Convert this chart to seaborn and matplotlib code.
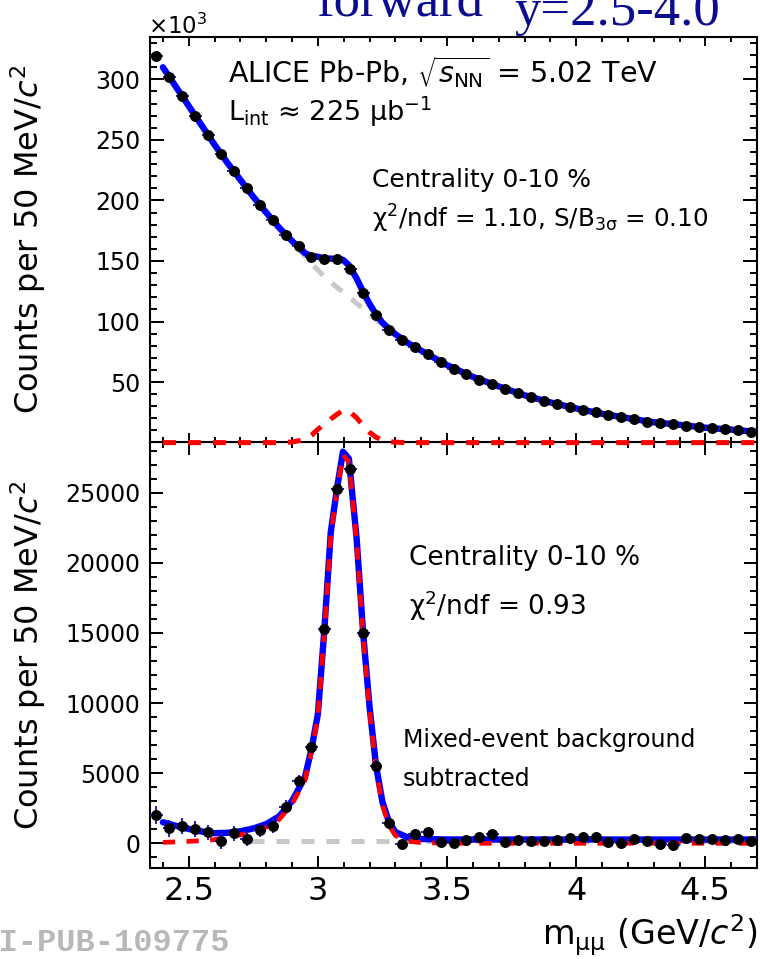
import numpy as np
import matplotlib
matplotlib.use("Agg")
import matplotlib.pyplot as plt
import seaborn as sns
from matplotlib.ticker import MultipleLocator, FixedLocator, FixedFormatter

# ---------------- data ----------------
mass = [2.375, 2.425, 2.475, 2.525, 2.575, 2.625, 2.675, 2.725, 2.775, 2.825,
        2.875, 2.925, 2.975, 3.025, 3.075, 3.125, 3.175, 3.225, 3.275, 3.325,
        3.375, 3.425, 3.475, 3.525, 3.575, 3.625, 3.675, 3.725, 3.775, 3.825,
        3.875, 3.925, 3.975, 4.025, 4.075, 4.125, 4.175, 4.225, 4.275, 4.325,
        4.375, 4.425, 4.475, 4.525, 4.575, 4.625, 4.675]

# upper panel: counts in units of 10^3
top_counts = [319.5, 302.0, 286.0, 269.8, 254.0, 238.0, 224.4, 210.0, 196.5, 183.8,
              171.6, 162.5, 153.7, 151.5, 151.5, 143.7, 123.3, 105.3, 93.4, 85.1,
              78.8, 73.3, 66.6, 61.1, 56.7, 52.0, 48.4, 44.5, 40.9, 37.3,
              34.6, 31.8, 29.3, 27.1, 24.9, 22.7, 21.1, 19.4, 17.4, 16.1,
              15.3, 14.1, 12.8, 11.9, 11.1, 10.3, 9.1]

# lower panel: mixed-event background subtracted counts
bottom_counts = [2018, 1070, 1256, 998, 785, 164, 713, 285, 949, 1234,
                 2611, 4444, 6890, 15265, 25250, 26680, 15020, 5514, 1427, -71,
                 642, 785, 114, 0, 235, 428, 663, 114, 235, 164,
                 185, 235, 357, 428, 471, 71, 43, 285, 185, -50,
                 -121, 357, 307, 285, 235, 285, 185]
bottom_err = [620, 600, 580, 560, 550, 540, 520, 500, 490, 480,
              470, 460, 450, 500, 520, 520, 480, 420, 380, 360,
              350, 340, 330, 320, 310, 300, 300, 290, 290, 280,
              280, 270, 270, 260, 260, 250, 250, 240, 240, 230,
              230, 220, 220, 215, 210, 205, 200]
bin_half_width = 0.025

# fit curves (knots)
fit_mass = [2.40, 2.45, 2.50, 2.55, 2.60, 2.65, 2.70, 2.75, 2.80, 2.85, 2.90, 2.95,
            2.975, 3.00, 3.025, 3.05, 3.075, 3.097, 3.12, 3.15, 3.175, 3.20, 3.225, 3.25, 3.275, 3.30,
            3.35, 3.40, 3.50,
            3.60, 3.70, 3.80, 3.90, 4.00, 4.10, 4.20, 4.30, 4.40, 4.50, 4.60, 4.70]
top_bkg = [310, 294, 278, 262, 246, 231, 217, 203, 190, 177.5, 166, 154,
           148, 142.5, 137, 132.5, 128, 124.5, 120.5, 115, 110.5, 106, 101.5, 97, 93.2, 89.2,
           82, 76, 64,
           54.3, 46.4, 39.1, 33.2, 28.2, 23.8, 20.2, 16.8, 14.7, 12.3, 10.7, 8.8]
top_sig = [0, 0, 0, 0, 0, 0, 0, 0, 0, 0, 0.5, 2.5,
           6, 11, 15, 19.5, 23.5, 26.5, 26, 20.5, 14, 8.5, 4.5, 2, 0.8, 0.3,
           0, 0, 0,
           0, 0, 0, 0, 0, 0, 0, 0, 0, 0, 0, 0]
bot_bkg = [1430, 1150, 880, 650, 460, 330, 260, 230, 220, 220, 220, 220,
           220, 220, 220, 225, 225, 230, 230, 235, 235, 240, 240, 245, 245, 250,
           255, 260, 265,
           270, 270, 270, 270, 270, 270, 270, 270, 270, 270, 270, 270]
bot_sig = [70, 100, 140, 190, 260, 420, 600, 830, 1150, 1700, 2800, 4500,
           6500, 9000, 15000, 22000, 25200, 27700, 27200, 21500, 14800, 9500, 5300, 2700, 1300, 550,
           150, 50, 10,
           0, 0, 0, 0, 0, 0, 0, 0, 0, 0, 0, 0]
bot_ref_mass = [2.74, 4.70]
bot_ref_level = [160, 160]

x_ticks = [2.5, 3.0, 3.5, 4.0, 4.5]
x_ticklabels = ["2.5", "3", "3.5", "4", "4.5"]
top_yticks = [50, 100, 150, 200, 250, 300]
top_yticklabels = ["50", "100", "150", "200", "250", "300"]
bot_yticks = [0, 5000, 10000, 15000, 20000, 25000]
bot_yticklabels = ["0", "5000", "10000", "15000", "20000", "25000"]

# ---------------- style ----------------
sns.set_theme(style="ticks")
plt.rcParams["font.family"] = ["DejaVu Sans"]
plt.rcParams["mathtext.fontset"] = "dejavusans"
plt.rcParams["axes.linewidth"] = 1.5
plt.rcParams["text.color"] = "black"
plt.rcParams["axes.labelcolor"] = "black"
plt.rcParams["xtick.color"] = "black"
plt.rcParams["ytick.color"] = "black"
plt.rcParams["xtick.labelcolor"] = "black"
plt.rcParams["ytick.labelcolor"] = "black"

W, H = 760, 959
def fx(px):
    return px / W
def fy(py):
    return 1 - py / H

fig = plt.figure(figsize=(W / 100, H / 100), dpi=100)
fig.patch.set_facecolor("white")
ax1 = fig.add_axes([fx(150), fy(442), 607 / W, 405 / H])
ax2 = fig.add_axes([fx(150), fy(868), 607 / W, 426 / H])
ax1.set_zorder(3)

BLUE = "#0000ff"
RED = "#ff0000"
GRAY = "#c8c8c8"
DASH = (0, (2.6, 2.4))

top_total = np.array(top_bkg) + np.array(top_sig)
bot_total = np.array(bot_bkg) + np.array(bot_sig)

# ---- upper panel ----
sns.lineplot(x=fit_mass, y=top_bkg, ax=ax1, color=GRAY, lw=3.6, sort=False, zorder=2)
ax1.lines[-1].set_linestyle(DASH)
sns.lineplot(x=fit_mass, y=top_total, ax=ax1, color=BLUE, lw=4.6, sort=False, zorder=3)
sns.lineplot(x=fit_mass, y=top_sig, ax=ax1, color=RED, lw=3.6, sort=False, zorder=3)
ax1.lines[-1].set_linestyle(DASH)
ax1.lines[-1].set_clip_on(False)
ax1.errorbar(mass, top_counts, xerr=bin_half_width, fmt="none", ecolor="#1c1cc8",
             elinewidth=1.4, capsize=0, zorder=4)
sns.scatterplot(x=mass, y=top_counts, ax=ax1, color="black", s=62, linewidth=0, zorder=5)

# ---- lower panel ----
sns.lineplot(x=bot_ref_mass, y=bot_ref_level, ax=ax2, color=GRAY, lw=3.6, sort=False, zorder=2)
ax2.lines[-1].set_linestyle(DASH)
sns.lineplot(x=fit_mass, y=bot_total, ax=ax2, color=BLUE, lw=4.6, sort=False, zorder=3)
sns.lineplot(x=fit_mass, y=bot_sig, ax=ax2, color=RED, lw=3.4, sort=False, zorder=3.5)
ax2.lines[-1].set_linestyle(DASH)
ax2.errorbar(mass, bottom_counts, xerr=bin_half_width, yerr=bottom_err, fmt="none",
             ecolor="#1c1cc8", elinewidth=1.4, capsize=0, zorder=4)
sns.scatterplot(x=mass, y=bottom_counts, ax=ax2, color="black", s=62, linewidth=0, zorder=5)

# ---- axes ----
for ax in (ax1, ax2):
    ax.set_xlim(2.35, 4.70)
    ax.xaxis.set_major_locator(FixedLocator(x_ticks))
    ax.xaxis.set_minor_locator(MultipleLocator(0.1))
    ax.set_xlabel("")
    ax.set_ylabel("")
    for sp in ax.spines.values():
        sp.set_visible(True)
        sp.set_linewidth(1.5)
        sp.set_color("black")
    ax.tick_params(which="both", direction="in", top=True, right=True, bottom=True, left=True,
                   width=1.4, color="black", labelcolor="black")
    ax.set_facecolor("white")
    ax.grid(False)

ax1.set_ylim(0.5, 335)
ax1.yaxis.set_major_locator(FixedLocator(top_yticks))
ax1.yaxis.set_major_formatter(FixedFormatter(top_yticklabels))
ax1.yaxis.set_minor_locator(MultipleLocator(10))
ax1.tick_params(axis="y", which="major", length=10, labelsize=17, pad=7)
ax1.tick_params(axis="y", which="minor", length=5)
ax1.tick_params(axis="x", which="major", length=6.5, labelbottom=False)
ax1.tick_params(axis="x", which="minor", length=3.3)

ax2.set_ylim(-1760, 28620)
ax2.yaxis.set_major_locator(FixedLocator(bot_yticks))
ax2.yaxis.set_major_formatter(FixedFormatter(bot_yticklabels))
ax2.yaxis.set_minor_locator(MultipleLocator(1000))
ax2.xaxis.set_major_formatter(FixedFormatter(x_ticklabels))
ax2.tick_params(axis="y", which="major", length=9.4, labelsize=17, pad=7)
ax2.tick_params(axis="y", which="minor", length=4.7)
ax2.tick_params(axis="x", which="major", length=9, labelsize=23, pad=6)
ax2.tick_params(axis="x", which="minor", length=4.3)

ylab = r"Counts per 50 MeV/$c^{2}$"
ax1.set_ylabel(ylab, fontsize=23, color="black")
ax2.set_ylabel(ylab, fontsize=23, color="black")
ax1.yaxis.set_label_coords(-0.168, 0.5)
ax2.yaxis.set_label_coords(-0.168, 0.5)

ax2.set_xlabel(r"m$_{\mathregular{μμ}}$ (GeV/$c^{2}$)", fontsize=24, loc="right", va="baseline",
               color="black")
ax2.xaxis.set_label_coords(1.0, (868 - 945) / 426)

# ---- texts ----
fig.text(fx(148), fy(34), r"$\times$10$^{3}$", fontsize=16.5, va="baseline", ha="left")
fig.text(fx(228), fy(83), r"ALICE Pb-Pb, $\sqrt{s_{\rm NN}}$ = 5.02 TeV", fontsize=20.5, va="baseline")
fig.text(fx(228), fy(121), r"L$_{\rm int}$ ≈ 225 μb$^{-1}$", fontsize=19.5, va="baseline")
fig.text(fx(372), fy(187), "Centrality 0-10 %", fontsize=18, va="baseline")
fig.text(fx(372), fy(228), r"χ$^{2}$/ndf = 1.10, S/B$_{\mathregular{3σ}}$ = 0.10", fontsize=17.7, va="baseline")
fig.text(fx(409), fy(565), "Centrality 0-10 %", fontsize=19, va="baseline")
fig.text(fx(409), fy(615), r"χ$^{2}$/ndf = 0.93", fontsize=19, va="baseline")
fig.text(fx(403), fy(747), "Mixed-event background", fontsize=17, va="baseline")
fig.text(fx(403), fy(786), "subtracted", fontsize=17, va="baseline")

NAVY = "#0c0c8e"
fig.text(fx(316), fy(16), "forward", family=["Liberation Serif", "DejaVu Serif"], fontsize=38,
         color=NAVY, va="baseline")
fig.text(fx(514), fy(25), "y=2.5-4.0", family=["Liberation Serif", "DejaVu Serif"], fontsize=38,
         color=NAVY, va="baseline")

fig.text(fx(229), fy(951), "ALI-PUB-109775", family=["Liberation Mono", "DejaVu Sans Mono"],
         weight="bold", fontsize=23, color="#b8b8b8", ha="right", va="baseline")

fig.savefig("out.png", dpi=100, facecolor="white")
